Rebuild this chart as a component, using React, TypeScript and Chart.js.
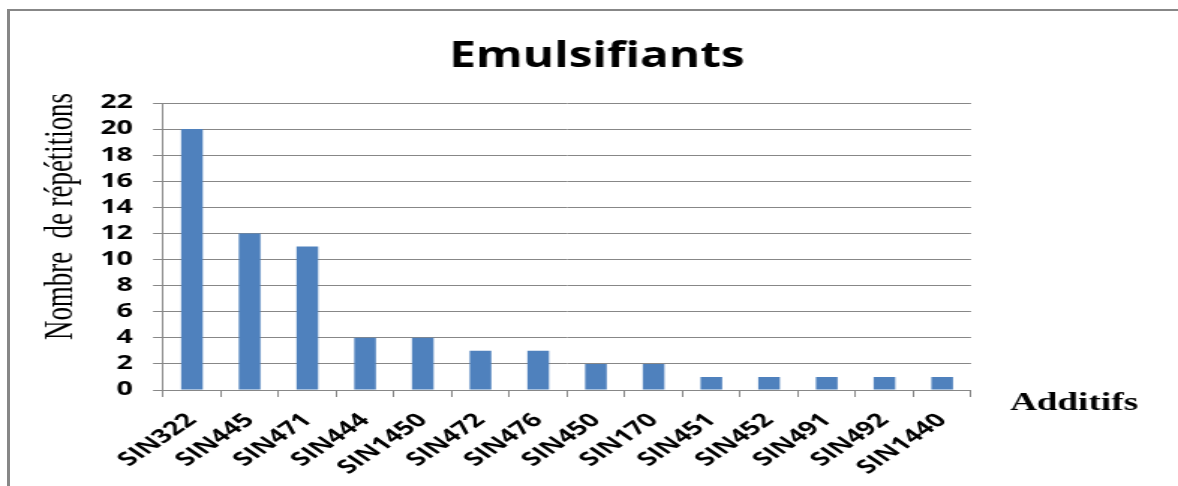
import { useEffect, useRef } from "react";
import { Chart, registerables } from "chart.js";

Chart.register(...registerables);

// Data
const categories = [
  "SIN322", "SIN445", "SIN471", "SIN444", "SIN1450", "SIN472", "SIN476",
  "SIN450", "SIN170", "SIN451", "SIN452", "SIN491", "SIN492", "SIN1440",
];
const repetitions = [20, 12, 11, 4, 4, 3, 3, 2, 2, 1, 1, 1, 1, 1];
const yMin = 0;
const yMax = 22;
const yStep = 2;

const chartTitle = "Emulsifiants";
const yAxisTitle = "Nombre  de répétitions";
const xAxisTitle = "Additifs";

// The chart is laid out on a narrower canvas and widened horizontally.
const CANVAS_W = 786;
const CANVAS_H = 486;
const PAGE_W = 1178;
const STRETCH = PAGE_W / CANVAS_W;

const GRID = "#878787";
const BAR = "#4f81bd";

function drawFitted(
  ctx: CanvasRenderingContext2D,
  text: string,
  font: string,
  x: number,
  y: number,
  width: number,
  angle: number,
  align: CanvasTextAlign
) {
  ctx.save();
  ctx.font = font;
  ctx.textAlign = align;
  ctx.textBaseline = "alphabetic";
  ctx.fillStyle = "#000";
  ctx.translate(x, y);
  ctx.rotate(angle);
  const w = ctx.measureText(text).width;
  ctx.scale(width / w, 1);
  ctx.fillText(text, 0, 0);
  ctx.restore();
}

const chartTexts = {
  id: "chartTexts",
  afterDraw(chart: Chart) {
    const ctx = chart.ctx;
    drawFitted(ctx, chartTitle, 'bold 36px "Open Sans"', 398.3, 66.5, 197, 0, "center");
    drawFitted(ctx, yAxisTitle, '27px "Liberation Serif"', 48, 216.5, 247, -Math.PI / 2, "center");
    drawFitted(ctx, xAxisTitle, 'bold 25px "Liberation Serif"', 673.9, 410, 85.4, 0, "left");
  },
};

export default function App() {
  const canvasRef = useRef<HTMLCanvasElement | null>(null);

  useEffect(() => {
    const canvas = canvasRef.current;
    if (!canvas) return;
    const chart = new Chart(canvas, {
      type: "bar",
      data: {
        labels: categories,
        datasets: [
          {
            data: repetitions,
            backgroundColor: BAR,
            borderWidth: 0,
            barPercentage: 0.375,
            categoryPercentage: 1,
          },
        ],
      },
      options: {
        animation: false,
        responsive: false,
        devicePixelRatio: 1,
        layout: { padding: { top: 103, right: CANVAS_W - 647.9, bottom: 0, left: 0 } },
        plugins: {
          legend: { display: false },
          title: { display: false },
          tooltip: { enabled: false },
        },
        scales: {
          x: {
            afterFit: (s: any) => {
              s.height = CANVAS_H - 390;
            },
            grid: {
              offset: true,
              drawOnChartArea: false,
              color: GRID,
              tickLength: 7,
              tickColor: GRID,
            },
            border: { display: true, color: GRID, width: 1 },
            ticks: {
              autoSkip: false,
              minRotation: 45,
              maxRotation: 45,
              padding: 17,
              color: "#000",
              font: { family: "Open Sans", weight: "bold", size: 19, lineHeight: 0.5 },
            },
          },
          y: {
            min: yMin,
            max: yMax,
            afterFit: (s: any) => {
              s.width = 108.8;
            },
            grid: {
              color: GRID,
              tickLength: 6.7,
              tickColor: GRID,
            },
            border: { display: true, color: GRID, width: 1 },
            ticks: {
              stepSize: yStep,
              padding: 13.4,
              color: "#000",
              font: { family: "Open Sans", weight: "bold", size: 19 },
            },
          },
        },
      },
      plugins: [chartTexts],
    });
    return () => chart.destroy();
  }, []);

  return (
    <div style={{ position: "fixed", left: 0, top: 0, width: PAGE_W, height: CANVAS_H, background: "#fff", overflow: "hidden" }}>
      <div
        style={{
          position: "absolute",
          left: 7,
          top: 9,
          width: 1300,
          height: 600,
          borderTop: `2px solid ${GRID}`,
          borderLeft: `3px solid ${GRID}`,
        }}
      />
      <div
        style={{
          position: "absolute",
          left: 0,
          top: 0,
          width: CANVAS_W,
          height: CANVAS_H,
          transform: `scaleX(${STRETCH})`,
          transformOrigin: "0 0",
        }}
      >
        <canvas
          ref={canvasRef}
          width={CANVAS_W}
          height={CANVAS_H}
          style={{ width: `${CANVAS_W}px`, height: `${CANVAS_H}px` }}
        />
      </div>
    </div>
  );
}
